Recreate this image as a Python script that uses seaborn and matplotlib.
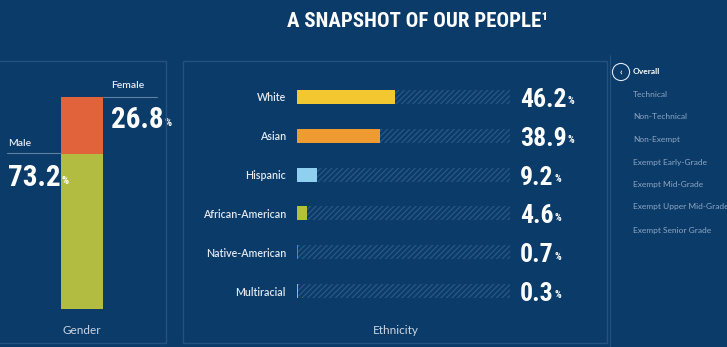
import matplotlib
matplotlib.use("Agg")
import matplotlib.pyplot as plt
import seaborn as sns
import pandas as pd
from matplotlib import font_manager
from matplotlib.patches import Rectangle
from matplotlib.lines import Line2D

# ---------------- data ----------------
title = "A SNAPSHOT OF OUR PEOPLE\u00b9"
gender_labels = ["Male", "Female"]
gender_values = [73.2, 26.8]
gender_colors = ["#b2bc40", "#e0633b"]

eth_labels = ["White", "Asian", "Hispanic", "African-American",
              "Native-American", "Multiracial"]
eth_values = [46.2, 38.9, 9.2, 4.6, 0.7, 0.3]
eth_total = [100, 100, 100, 100, 100, 100]
eth_colors = ["#f2c72f", "#f09b31", "#8fd0f0", "#afc23a", "#1e9ad8", "#b8b27a"]

menu_items = ["Overall", "Technical", "Non-Technical", "Non-Exempt",
              "Exempt Early-Grade", "Exempt Mid-Grade",
              "Exempt Upper Mid-Grade", "Exempt Senior Grade"]

# ---------------- style ----------------
sns.set_theme(style="white")
plt.rcParams["font.family"] = ["Lato", "DejaVu Sans"]
plt.rcParams["hatch.linewidth"] = 0.9

names = {f.name for f in font_manager.fontManager.ttflist}
COND = dict(family=["DejaVu Sans"], weight="bold")
for cand in ["Liberation Sans Narrow", "Roboto Condensed", "Open Sans Condensed",
             "Noto Sans Condensed", "DejaVu Sans Condensed"]:
    if cand in names:
        COND = dict(family=[cand, "DejaVu Sans"], weight="bold")
        break

BG = "#0a3b69"
TRACK = "#2a5884"
BORDER = "#24527f"
W, H = 727, 347

fig = plt.figure(figsize=(W / 100, H / 100), dpi=100, facecolor=BG)


def fx(px):
    return px / W


def fy(py):
    return 1 - py / H


def axes_px(l, t, r, b):
    a = fig.add_axes([l / W, 1 - b / H, (r - l) / W, (b - t) / H])
    a.set_facecolor("none")
    return a


# panel borders
fig.add_artist(Rectangle((fx(-5), fy(343)), 171 / W, 282 / H, transform=fig.transFigure,
                         fill=False, ec=BORDER, lw=1.0))
fig.add_artist(Rectangle((fx(183), fy(343)), 424 / W, 282 / H, transform=fig.transFigure,
                         fill=False, ec=BORDER, lw=1.0))
fig.add_artist(Line2D([fx(610), fx(610)], [fy(55), fy(347)], transform=fig.transFigure,
                      color=BORDER, lw=0.8))

# ---------------- title ----------------
fig.text(fx(418), fy(27), title, ha="center", va="baseline", color="white",
         fontsize=15, **COND)

# ---------------- gender ----------------
ax_g = axes_px(61, 97, 103, 308.5)
g_df = pd.DataFrame({"group": ["Gender"], "male": [gender_values[0]],
                     "total": [sum(gender_values)]})
sns.barplot(data=g_df, x="group", y="total", color=gender_colors[1], width=1,
            linewidth=0, saturation=1, ax=ax_g)
sns.barplot(data=g_df, x="group", y="male", color=gender_colors[0], width=1,
            linewidth=0, saturation=1, ax=ax_g)
ax_g.set_xlim(-0.5, 0.5)
ax_g.set_ylim(0, 100)
ax_g.axis("off")

fig.text(fx(111), fy(86), gender_labels[1], ha="left", va="center", color="#e6ecf3",
         fontsize=7.5, fontweight="semibold")
fig.text(fx(8), fy(143), gender_labels[0], ha="left", va="center", color="#e6ecf3",
         fontsize=7.5, fontweight="semibold")
fig.add_artist(Line2D([fx(103), fx(157)], [fy(96.7), fy(96.7)], transform=fig.transFigure,
                      color="#5f7fa3", lw=0.8))
fig.add_artist(Line2D([fx(7), fx(61)], [fy(153), fy(153)], transform=fig.transFigure,
                      color="#5f7fa3", lw=0.8))

for (xp, yp), v in zip([(8, 186), (111, 128)], gender_values):
    t = ax_g.annotate(f"{v:.1f}", xy=(xp, H - yp), xycoords="figure pixels",
                      ha="left", va="baseline", color="white", fontsize=21,
                      annotation_clip=False, **COND)
    ax_g.annotate("%", xy=(1, 0), xycoords=t, xytext=(0.5, 4.3), textcoords="offset points",
                  ha="left", va="bottom", color="white", fontsize=8,
                  annotation_clip=False, **COND)

fig.text(fx(82), fy(330), "Gender", ha="center", va="center", color="#c9d5e4", fontsize=8.5)

# ---------------- ethnicity ----------------
ax_e = axes_px(297, 77.6, 510, 310.4)
eth_df = pd.DataFrame({"group": eth_labels, "value": eth_values, "total": eth_total})
sns.barplot(data=eth_df, y="group", x="total", orient="h", color=TRACK, fill=False,
            hatch="//////", linewidth=0, width=0.36, saturation=1, ax=ax_e)
sns.barplot(data=eth_df, y="group", x="value", hue="group", palette=eth_colors,
            legend=False, orient="h", width=0.36, linewidth=0, saturation=1, ax=ax_e)
ax_e.set_xlim(0, 100)
ax_e.set_ylim(5.5, -0.5)
ax_e.set_xticks([])
ax_e.set_xlabel("")
ax_e.set_ylabel("")
for s in ax_e.spines.values():
    s.set_visible(False)
ax_e.tick_params(axis="y", length=0, pad=8, labelsize=7.7, labelcolor="#e3e9f1")
for lbl in ax_e.get_yticklabels():
    lbl.set_fontweight("semibold")

for i, v in enumerate(eth_values):
    t = ax_e.annotate(f"{v:.1f}", xy=(104.7, i), xytext=(0, -7.2), textcoords="offset points",
                      ha="left", va="baseline", color="white", fontsize=18.5,
                      annotation_clip=False, **COND)
    ax_e.annotate("%", xy=(1, 0), xycoords=t, xytext=(0.5, 4.0), textcoords="offset points",
                  ha="left", va="bottom", color="white", fontsize=7.5,
                  annotation_clip=False, **COND)

fig.text(fx(396), fy(330), "Ethnicity", ha="center", va="center", color="#c9d5e4",
         fontsize=8.5)

# ---------------- side menu ----------------
menu_y = [72, 94.5, 117, 139.5, 162, 184.5, 207, 230]
for item, yp in zip(menu_items, menu_y):
    first = item == menu_items[0]
    fig.text(fx(633), fy(yp), item, ha="left", va="center",
             color="white" if first else "#8ea5c2", fontsize=6,
             fontweight="bold" if first else "normal")
fig.text(fx(621), fy(72), "\u2039", ha="center", va="center", color="white", fontsize=6.5,
         fontweight="bold",
         bbox=dict(boxstyle="circle,pad=0.45", fc="none", ec="#dfe6ef", lw=0.8))

fig.savefig("out.png", dpi=100, facecolor=BG)
